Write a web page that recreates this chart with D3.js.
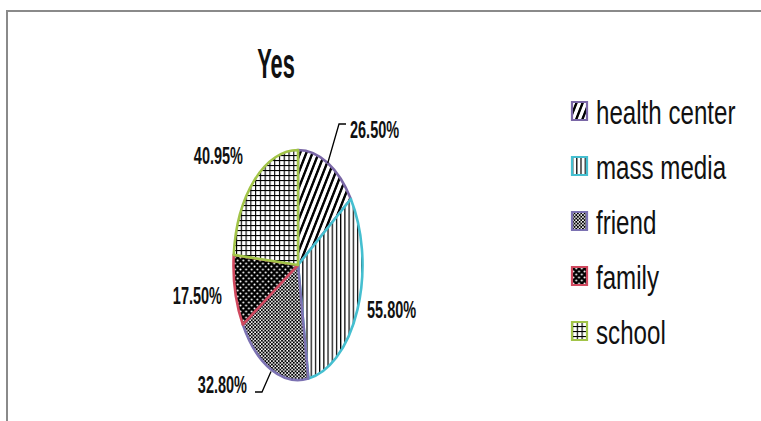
<!DOCTYPE html>
<html>
<head>
	<meta charset="utf-8">
	<title>Yes</title>
	<script src="https://cdn.jsdelivr.net/npm/d3@7"></script>
	<style>
		body { margin: 0; background: #fff; }
		text { font-family: "Liberation Sans", Arial, sans-serif; fill: #111; }
	</style>
</head>
<body>
	<script>
		var width = 761, height = 421;

		// chart data
		var categories = ["health center", "mass media", "friend", "family", "school"];
		var values = [26.50, 55.80, 32.80, 17.50, 40.95];
		var labels = ["26.50%", "55.80%", "32.80%", "17.50%", "40.95%"];
		var edgeColors = ["#7a67a6", "#45bfd0", "#7c72b2", "#d0485e", "#a2c448"];
		var patternIds = ["pDiag", "pVert", "pDots", "pFam", "pGrid"];

		// layout
		var cx = 298, cy = 265, radius = 115, squeeze = 0.561;
		// label anchor offsets from centre (screen px)
		var labelPos = [[52, 138 - 265], [69, 318 - 265], [-51, 393 - 265], [-76, 304 - 265], [-55, 164 - 265]];

		var svg = d3.select("body").append("svg")
			.attr("width", width).attr("height", height);

		// frame
		svg.append("path")
			.attr("d", "M7,421V11H761")
			.attr("fill", "none").attr("stroke", "#8a8a8a").attr("stroke-width", 2);

		// fill patterns (defined in the squeezed pie space)
		var defs = svg.append("defs");

		var p = defs.append("pattern").attr("id", "pDiag").attr("patternUnits", "userSpaceOnUse")
			.attr("width", 9).attr("height", 9).attr("patternTransform", "rotate(35)");
		p.append("rect").attr("width", 9).attr("height", 9).attr("fill", "#fff");
		p.append("rect").attr("width", 3.8).attr("height", 9).attr("fill", "#000");

		p = defs.append("pattern").attr("id", "pVert").attr("patternUnits", "userSpaceOnUse")
			.attr("width", 7.5).attr("height", 10);
		p.append("rect").attr("width", 7.5).attr("height", 10).attr("fill", "#fff");
		p.append("rect").attr("width", 2.2).attr("height", 10).attr("fill", "#000");

		p = defs.append("pattern").attr("id", "pDots").attr("patternUnits", "userSpaceOnUse")
			.attr("width", 6).attr("height", 3.4);
		p.append("rect").attr("width", 6).attr("height", 3.4).attr("fill", "#fff");
		p.append("rect").attr("width", 3.4).attr("height", 1.9).attr("fill", "#000");
		p.append("rect").attr("x", 3).attr("y", 1.7).attr("width", 3.4).attr("height", 1.9).attr("fill", "#000");

		p = defs.append("pattern").attr("id", "pFam").attr("patternUnits", "userSpaceOnUse")
			.attr("width", 10).attr("height", 6);
		p.append("rect").attr("width", 10).attr("height", 6).attr("fill", "#000");
		p.append("ellipse").attr("cx", 2.5).attr("cy", 1.5).attr("rx", 1.8).attr("ry", 1).attr("fill", "#fff");
		p.append("ellipse").attr("cx", 7.5).attr("cy", 4.5).attr("rx", 1.8).attr("ry", 1).attr("fill", "#fff");

		p = defs.append("pattern").attr("id", "pGrid").attr("patternUnits", "userSpaceOnUse")
			.attr("width", 8.5).attr("height", 5);
		p.append("rect").attr("width", 8.5).attr("height", 5).attr("fill", "#fff");
		p.append("rect").attr("width", 2).attr("height", 5).attr("fill", "#000");
		p.append("rect").attr("width", 8.5).attr("height", 1.1).attr("fill", "#000");

		// title
		svg.append("text")
			.attr("transform", "translate(276,78) scale(0.52,1)")
			.attr("text-anchor", "middle")
			.attr("font-size", 42).attr("font-weight", "bold")
			.text("Yes");

		// pie
		var pie = d3.pie().sort(null).value(function(d){ return d; });
		var arcs = pie(values);
		var arc = d3.arc().innerRadius(0).outerRadius(radius);

		var g = svg.append("g").attr("transform", "translate(" + cx + "," + cy + ") scale(" + squeeze + ",1)");
		g.selectAll("path")
			.data(arcs)
			.enter().append("path")
			.attr("d", arc)
			.attr("fill", function(d, i){ return "url(#" + patternIds[i] + ")"; })
			.attr("stroke", function(d, i){ return edgeColors[i]; })
			.attr("stroke-width", 2.6)
			.attr("stroke-linejoin", "round")
			.attr("vector-effect", "non-scaling-stroke");

		// leader lines for the two labels that sit away from the pie
		var edge = d3.arc().innerRadius(radius).outerRadius(radius);
		function edgePt(i) {
			var c = edge.centroid(arcs[i]);
			return [cx + c[0] * squeeze, cy + c[1]];
		}
		var hc = edgePt(0), fr = edgePt(2);
		svg.append("path")
			.attr("d", "M" + hc[0] + "," + hc[1] + "L339,124H346")
			.attr("fill", "none").attr("stroke", "#000").attr("stroke-width", 1.3);
		svg.append("path")
			.attr("d", "M" + fr[0] + "," + (fr[1] + 2) + "L262,392H255")
			.attr("fill", "none").attr("stroke", "#000").attr("stroke-width", 1.3);

		// data labels
		svg.selectAll(".lbl")
			.data(labels)
			.enter().append("text")
			.attr("class", "lbl")
			.attr("transform", function(d, i){
				return "translate(" + (cx + labelPos[i][0]) + "," + (cy + labelPos[i][1]) + ") scale(0.63,1)";
			})
			.attr("text-anchor", function(d, i){ return labelPos[i][0] > 0 ? "start" : "end"; })
			.attr("font-size", 23).attr("font-weight", "bold")
			.text(function(d){ return d; });

		// legend
		var ly = d3.scalePoint().domain(categories).range([111, 331]);
		var leg = svg.selectAll(".leg")
			.data(categories)
			.enter().append("g")
			.attr("class", "leg")
			.attr("transform", function(d){ return "translate(572," + ly(d) + ")"; });
		leg.append("g").attr("transform", "scale(" + squeeze + ",1)")
			.append("rect")
			.attr("x", 0).attr("y", -9).attr("width", 15 / squeeze).attr("height", 18)
			.attr("fill", function(d, i){ return "url(#" + patternIds[i] + ")"; })
			.attr("stroke", function(d, i){ return edgeColors[i]; })
			.attr("stroke-width", 2.2)
			.attr("vector-effect", "non-scaling-stroke");
		leg.append("text")
			.attr("transform", "translate(24,13) scale(0.71,1)")
			.attr("font-size", 34)
			.text(function(d){ return d; });
	</script>
</body>
</html>
